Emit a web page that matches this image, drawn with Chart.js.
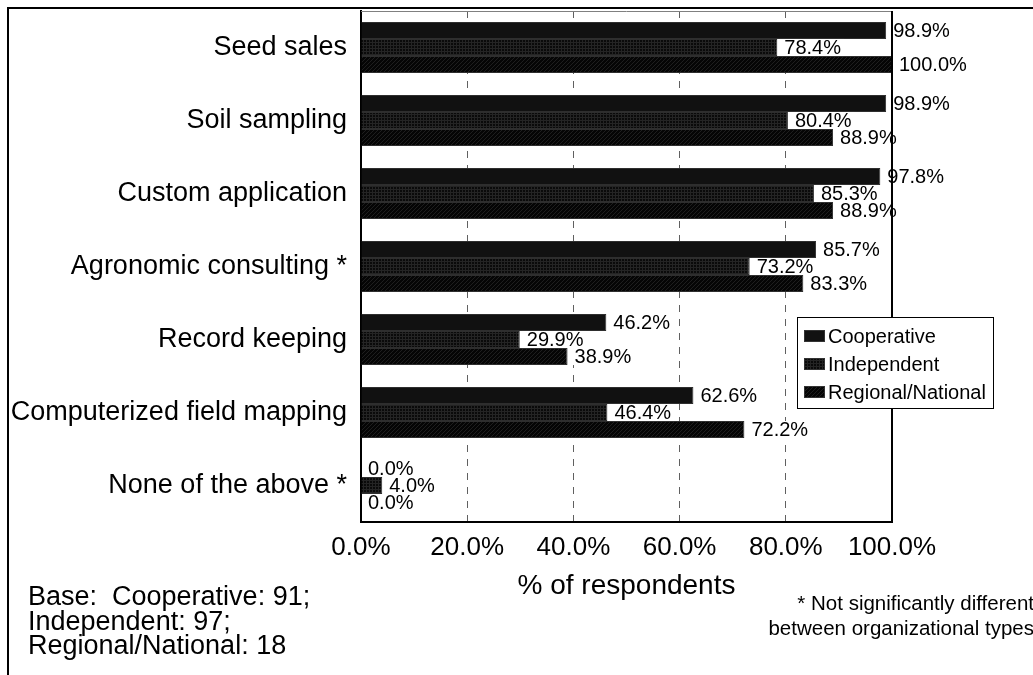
<!DOCTYPE html>
<html>
<head>
<meta charset="utf-8">
<title>Services offered by organizational type</title>
<script src="https://cdn.jsdelivr.net/npm/chart.js@4.4.1/dist/chart.umd.min.js"></script>
<style>
  html, body { margin: 0; padding: 0; background: #fff; }
  #chart { display: block; }
</style>
</head>
<body>
<canvas id="chart" width="1033" height="675"></canvas>
<script>
// Data
const categories = [
    'Seed sales',
    'Soil sampling',
    'Custom application',
    'Agronomic consulting *',
    'Record keeping',
    'Computerized field mapping',
    'None of the above *'
];
const seriesNames = ['Cooperative', 'Independent', 'Regional/National'];
const cooperative = [98.9, 98.9, 97.8, 85.7, 46.2, 62.6, 0.0];
const independent = [78.4, 80.4, 85.3, 73.2, 29.9, 46.4, 4.0];
const regional = [100.0, 88.9, 88.9, 83.3, 38.9, 72.2, 0.0];
const xTicks = [0, 20, 40, 60, 80, 100];
const axisTitle = '% of respondents';
const baseNote = ['Base:  Cooperative: 91;', 'Independent: 97;', 'Regional/National: 18'];
const footNote = ['* Not significantly different', 'between organizational types'];

const FONT = '"Liberation Sans", Arial, Helvetica, sans-serif';

// Fill patterns for bars
function makePattern(size, base, ink, draw) {
    const cv = document.createElement('canvas');
    cv.width = size;
    cv.height = size;
    const c = cv.getContext('2d');
    c.fillStyle = base;
    c.fillRect(0, 0, size, size);
    c.fillStyle = ink;
    draw(c, size);
    return c.createPattern(cv, 'repeat');
}

const ctx = document.getElementById('chart').getContext('2d');

// fine checkered grid
const gridFill = makePattern(3, '#0a0a0a', '#242424', (c, s) => {
    c.fillRect(0, 0, s, 1);
    c.fillRect(0, 0, 1, s);
});
// diagonal hatch
const hatchFill = makePattern(4, '#050505', '#1e1e1e', (c, s) => {
    for (let i = 0; i < s; i++) c.fillRect(i, s - 1 - i, 1, 1);
});

const fills = ['#111111', gridFill, hatchFill];
const values = [cooperative, independent, regional];

// Value labels at bar ends, on a white box
const valueLabels = {
    id: 'valueLabels',
    afterDatasetsDraw(chart) {
        const c = chart.ctx;
        c.save();
        c.font = '20px ' + FONT;
        c.textBaseline = 'middle';
        c.textAlign = 'left';
        chart.data.datasets.forEach((ds, i) => {
            const meta = chart.getDatasetMeta(i);
            meta.data.forEach((bar, j) => {
                const text = ds.data[j].toFixed(1) + '%';
                const w = c.measureText(text).width;
                const h = bar.height;
                c.fillStyle = '#fff';
                c.fillRect(bar.x + 2, bar.y - h / 2, w + 8, h);
                c.fillStyle = '#000';
                c.fillText(text, bar.x + 7, bar.y + 1);
            });
        });
        c.restore();
    }
};

// Outer frame, plot border, legend and notes
const decorations = {
    id: 'decorations',
    beforeDraw(chart) {
        const c = chart.ctx;
        c.save();
        c.fillStyle = '#fff';
        c.fillRect(0, 0, chart.width, chart.height);
        c.strokeStyle = '#000';
        c.lineWidth = 2;
        c.beginPath();
        c.moveTo(8, chart.height);
        c.lineTo(8, 8);
        c.lineTo(chart.width, 8);
        c.stroke();
        c.restore();
    },
    afterDraw(chart) {
        const c = chart.ctx;
        const area = chart.chartArea;
        c.save();

        // plot area border
        c.strokeStyle = '#808080';
        c.lineWidth = 1;
        c.beginPath();
        c.moveTo(area.left, area.top + 0.5);
        c.lineTo(area.right, area.top + 0.5);
        c.stroke();
        c.strokeStyle = '#000';
        c.lineWidth = 2;
        c.beginPath();
        c.moveTo(area.right, area.top);
        c.lineTo(area.right, area.bottom);
        c.stroke();

        // legend
        const lx = 797, ly = 317, lw = 196, lh = 91;
        c.fillStyle = '#fff';
        c.fillRect(lx, ly, lw, lh);
        c.strokeStyle = '#000';
        c.lineWidth = 1;
        c.strokeRect(lx + 0.5, ly + 0.5, lw, lh);
        c.font = '20px ' + FONT;
        c.textBaseline = 'middle';
        c.textAlign = 'left';
        chart.data.datasets.forEach((ds, i) => {
            const cy = 336 + i * 28;
            c.fillStyle = ds.backgroundColor;
            c.fillRect(804, cy - 6, 21, 12);
            c.strokeStyle = '#333';
            c.strokeRect(804.5, cy - 5.5, 20, 11);
            c.fillStyle = '#000';
            c.fillText(ds.label, 828, cy + 1);
        });

        // base counts
        c.font = '27px ' + FONT;
        c.fillStyle = '#000';
        baseNote.forEach((line, i) => {
            c.fillText(line, 28, 598 + i * 24.5);
        });

        // significance note
        c.font = '20.5px ' + FONT;
        c.textAlign = 'right';
        footNote.forEach((line, i) => {
            c.fillText(line, 1034, 604 + i * 25);
        });

        c.restore();
    }
};

new Chart(ctx, {
    type: 'bar',
    data: {
        labels: categories,
        datasets: seriesNames.map((name, i) => ({
            label: name,
            data: values[i],
            backgroundColor: fills[i],
            borderColor: '#2e2e2e',
            borderWidth: 1,
            categoryPercentage: 0.7,
            barPercentage: 1.0
        }))
    },
    options: {
        indexAxis: 'y',
        responsive: false,
        devicePixelRatio: 1,
        animation: false,
        layout: {
            padding: { top: 11, right: 141, bottom: 0, left: 0 }
        },
        scales: {
            x: {
                min: 0,
                max: 100,
                afterBuildTicks: (scale) => {
                    scale.ticks = xTicks.map(v => ({ value: v }));
                },
                afterFit: (scale) => {
                    scale.height = 153;
                },
                ticks: {
                    color: '#000',
                    font: { family: FONT, size: 26 },
                    padding: 10,
                    maxRotation: 0,
                    callback: (v) => Number(v).toFixed(1) + '%'
                },
                grid: {
                    drawTicks: false,
                    lineWidth: 1,
                    color: (c) => (c.tick && (c.tick.value === 0 || c.tick.value === 100)) ? 'rgba(0,0,0,0)' : '#606060'
                },
                border: {
                    display: true,
                    color: '#000',
                    width: 2,
                    dash: [7, 7]
                },
                title: {
                    display: true,
                    text: axisTitle,
                    color: '#000',
                    font: { family: FONT, size: 28 },
                    padding: { top: 0, bottom: 72 }
                }
            },
            y: {
                afterFit: (scale) => {
                    // keep the plot area tight to the layout padding
                    scale.width = 361;
                    scale.paddingTop = 0;
                    scale.paddingBottom = 0;
                },
                ticks: {
                    color: '#000',
                    font: { family: FONT, size: 27 },
                    padding: 14
                },
                grid: {
                    display: false,
                    drawTicks: false
                },
                border: {
                    display: true,
                    color: '#000',
                    width: 2
                }
            }
        },
        plugins: {
            legend: { display: false },
            tooltip: { enabled: false }
        }
    },
    plugins: [decorations, valueLabels]
});
</script>
</body>
</html>
